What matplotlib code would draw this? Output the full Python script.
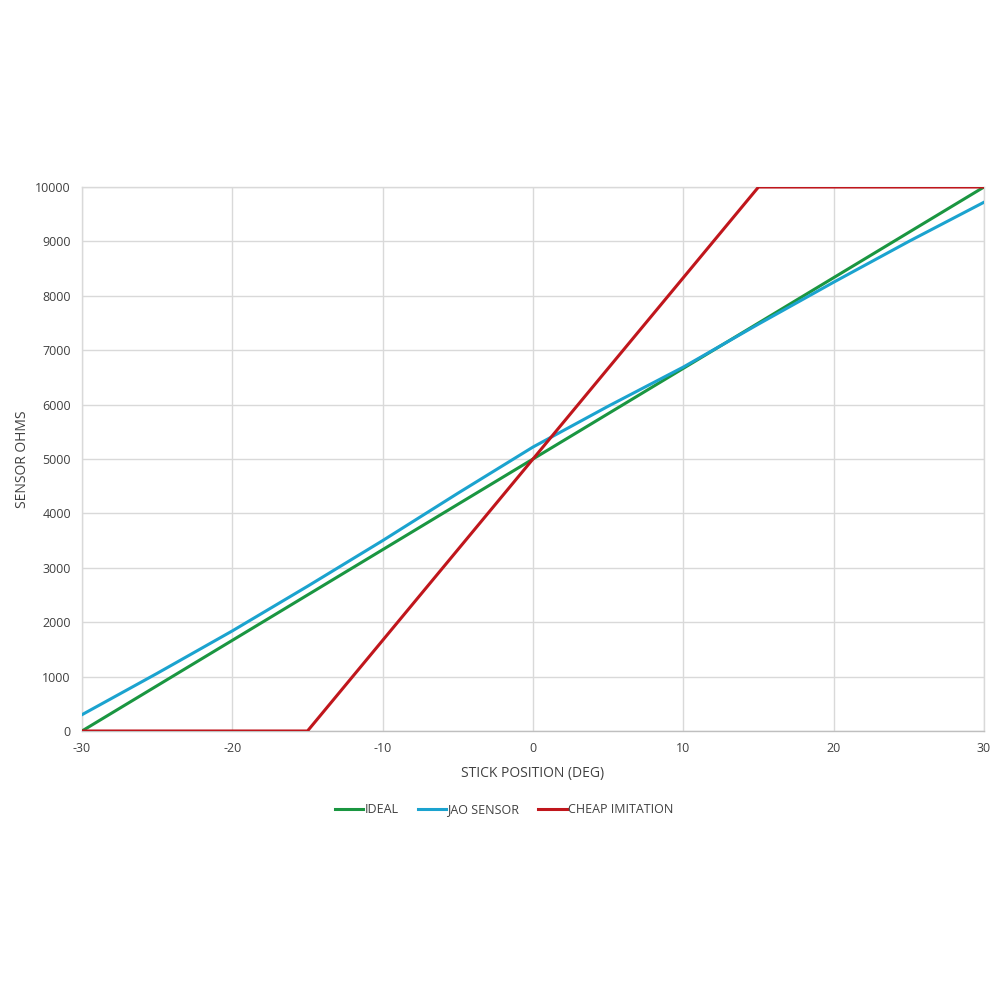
import matplotlib
matplotlib.use("Agg")
import matplotlib.pyplot as plt

plt.rcParams["font.family"] = ["Open Sans", "DejaVu Sans"]
plt.rcParams["axes.unicode_minus"] = False

# data
ideal_x = [-30, 30]
ideal_y = [0, 10000]

jao_x = [-30, -25, -20, -15, -10, -5, 0, 5, 10, 15, 20, 25, 30]
jao_y = [300, 1060, 1840, 2660, 3500, 4370, 5220, 5970, 6690, 7480, 8250, 9000, 9720]

cheap_x = [-30, -15, 15, 30]
cheap_y = [0, 0, 10000, 10000]

x_ticks = [-30, -20, -10, 0, 10, 20, 30]
y_ticks = list(range(0, 10001, 1000))

fig = plt.figure(figsize=(10, 10), dpi=100)
ax = fig.add_axes([0.082, 0.269, 0.902, 0.544])

ax.plot(ideal_x, ideal_y, color="#1a9641", lw=2.2, label="IDEAL", zorder=3)
ax.plot(jao_x, jao_y, color="#1ba3cf", lw=2.2, label="JAO SENSOR", zorder=3)
ax.plot(cheap_x, cheap_y, color="#c0161c", lw=2.2, label="CHEAP IMITATION", zorder=4)

ax.set_xlim(-30, 30)
ax.set_ylim(0, 10000)
ax.set_xticks(x_ticks)
ax.set_yticks(y_ticks)
ax.grid(True, color="#d9d9d9", lw=1)
ax.set_axisbelow(True)
for s in ax.spines.values():
    s.set_color("#d9d9d9")
    s.set_linewidth(1)
ax.spines["bottom"].set_color("#bfbfbf")
ax.tick_params(length=0, labelsize=9, colors="#404040", pad=8)

ax.set_xlabel("STICK POSITION (DEG)", fontsize=10, color="#404040", labelpad=8)
ax.set_ylabel("SENSOR OHMS", fontsize=10, color="#404040", labelpad=4)

ax.legend(loc="upper center", bbox_to_anchor=(0.468, -0.112), ncol=3, frameon=False,
          fontsize=9, labelcolor="#404040", handlelength=2.3, handletextpad=0.1,
          columnspacing=1.5)

fig.savefig("out.png", dpi=100, facecolor="white")
